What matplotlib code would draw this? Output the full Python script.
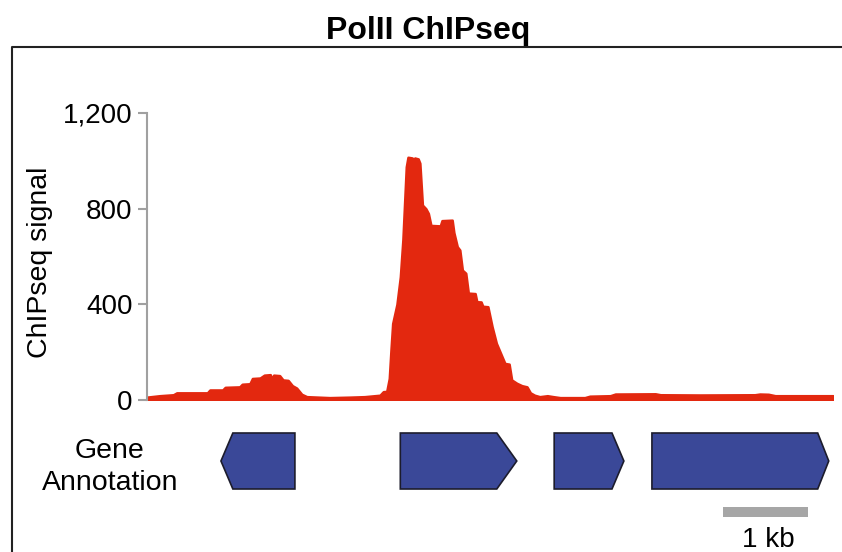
import matplotlib
matplotlib.use("Agg")
import matplotlib.pyplot as plt
from matplotlib.patches import Polygon
from matplotlib.lines import Line2D

plt.rcParams['font.family'] = ['Liberation Sans', 'DejaVu Sans']

# ChIPseq signal, position in kb along the locus
pos_kb = [0.00, 0.15, 0.31, 0.35, 0.71, 0.74, 0.89, 0.92, 1.09, 1.12, 1.21, 1.24,
          1.33, 1.38, 1.45, 1.47, 1.49, 1.56, 1.60, 1.66, 1.71, 1.76, 1.82, 1.88,
          2.15, 2.39, 2.56, 2.74, 2.78, 2.82, 2.85, 2.87, 2.89, 2.94, 2.98, 3.01,
          3.05, 3.07, 3.12, 3.13, 3.15, 3.19, 3.21, 3.24, 3.28, 3.31, 3.34, 3.45,
          3.47, 3.59, 3.61, 3.65, 3.68, 3.71, 3.75, 3.78, 3.86, 3.88, 3.93, 3.95,
          4.01, 4.06, 4.11, 4.16, 4.21, 4.26, 4.29, 4.35, 4.41, 4.47, 4.51, 4.56,
          4.62, 4.71, 4.78, 4.86, 5.15, 5.21, 5.45, 5.51, 5.98, 6.04, 6.51, 7.15,
          7.21, 7.31, 7.39, 8.07]
signal = [12, 18, 22, 30, 30, 42, 42, 53, 55, 66, 68, 90,
          92, 104, 106, 88, 104, 102, 84, 82, 60, 50, 24, 14,
          10, 12, 14, 20, 35, 36, 90, 210, 320, 400, 515, 670,
          975, 1015, 1012, 1000, 1012, 1008, 990, 815, 800, 780, 730, 728,
          750, 752, 700, 641, 627, 543, 530, 447, 445, 411, 410, 392,
          390, 306, 237, 195, 153, 150, 84, 70, 60, 55, 30, 20,
          14, 18, 14, 10, 10, 16, 18, 25, 26, 22, 21, 22,
          25, 24, 18, 18]

# gene annotation (kb)
gene_start = [0.87, 2.98, 4.79, 5.94]
gene_end = [1.74, 4.35, 5.61, 8.02]
gene_strand = ['-', '+', '+', '+']
gene_tip = [0.14, 0.235, 0.14, 0.13]

yticks = [0, 400, 800, 1200]
ytick_labels = ['0', '400', '800', '1,200']

W, H = 842, 552
red = '#E3280F'
blue = '#3A4898'
gray = '#A0A0A0'

fig = plt.figure(figsize=(W / 100, H / 100), dpi=100)

# signal track
ax = fig.add_axes([147 / W, 1 - 400 / H, 686 / W, 287 / H])
ax.fill_between(pos_kb, signal, 0, facecolor=red, edgecolor=red, lw=1.8)
ax.set_xlim(0, 8.07)
ax.set_ylim(0, 1200)
for s in ['top', 'right', 'bottom']:
    ax.spines[s].set_visible(False)
ax.spines['left'].set_color(gray)
ax.spines['left'].set_linewidth(1.5)
ax.set_xticks([])
ax.set_yticks(yticks)
ax.set_yticklabels(ytick_labels, fontsize=20)
ax.tick_params(axis='y', color=gray, width=1.5, length=6.5, pad=4)
ax.set_ylabel('ChIPseq signal', fontsize=20.5)
ax.yaxis.set_label_coords(-0.137, 0.48)

# gene track
gax = fig.add_axes([147 / W, 0, 686 / W, 132 / H])
gax.set_xlim(0, 8.07)
gax.set_ylim(132, 0)
gax.axis('off')
top, bot, mid = 13, 69, 41
for s, e, st, tip in zip(gene_start, gene_end, gene_strand, gene_tip):
    if st == '+':
        pts = [(s, top), (e - tip, top), (e, mid), (e - tip, bot), (s, bot)]
    else:
        pts = [(s, mid), (s + tip, top), (e, top), (e, bot), (s + tip, bot)]
    gax.add_patch(Polygon(pts, closed=True, facecolor=blue, edgecolor='#1c1c2c', lw=1.2))

# scale bar
gax.plot([6.78, 7.78], [92, 92], color='#A6A6A6', lw=7.2, solid_capstyle='butt')
gax.text(7.31, 120, '1 kb', ha='center', va='center', fontsize=20)

fig.text(110 / W, 1 - 467 / H, 'Gene\nAnnotation', ha='center', va='center',
         multialignment='center', fontsize=20.5, linespacing=1.35)

# frame and title
fig.add_artist(Line2D([12 / W, 12 / W, 1], [0, 1 - 47 / H, 1 - 47 / H],
                      transform=fig.transFigure, color='#222222', lw=1.5))
fig.text(428 / W, 1 - 39 / H, 'PolII ChIPseq', ha='center', va='baseline',
         fontsize=23, fontweight='bold')

fig.savefig('out.png', dpi=100)
